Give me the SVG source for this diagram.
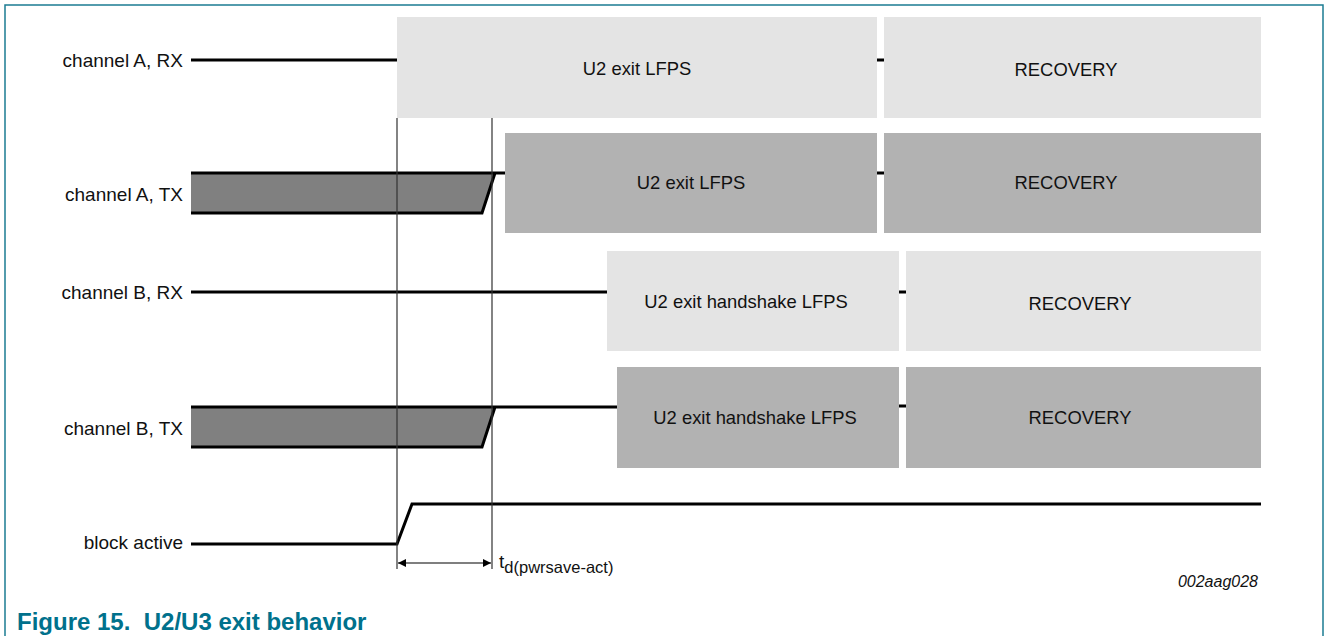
<svg xmlns="http://www.w3.org/2000/svg" width="1328" height="636" viewBox="0 0 1328 636">
<defs>
<style>
.lbl{font-family:"Liberation Sans",Arial,sans-serif;font-size:19px;fill:#111;}
.box{font-family:"Liberation Sans",Arial,sans-serif;font-size:18.4px;fill:#111;text-anchor:middle;}
.light{fill:#e4e4e4;}
.dark{fill:#b2b2b2;}
.sig{fill:none;stroke:#000;stroke-width:3;stroke-linejoin:miter;}
.thin{fill:none;stroke:#333;stroke-width:1.2;}
.bus{fill:#808080;stroke:none;}
</style>
<marker id="arr" viewBox="0 0 10 10" refX="10" refY="5" markerWidth="12" markerHeight="8" markerUnits="userSpaceOnUse" orient="auto-start-reverse">
<path d="M0,0 L10,5 L0,10 z" fill="#000"/>
</marker>
</defs>
<rect x="0" y="0" width="1328" height="636" fill="#fff"/>
<path d="M5,636 L5,5 L1323,5 L1323,636" fill="none" stroke="#1b7c93" stroke-width="1.5"/>

<g id="label-a-rx"><text class="lbl" x="183" y="67" text-anchor="end">channel A, RX</text></g>
<g id="label-a-tx"><text class="lbl" x="183" y="201" text-anchor="end">channel A, TX</text></g>
<g id="label-b-rx"><text class="lbl" x="183" y="299" text-anchor="end">channel B, RX</text></g>
<g id="label-b-tx"><text class="lbl" x="183" y="435" text-anchor="end">channel B, TX</text></g>
<g id="label-block"><text class="lbl" x="183" y="549" text-anchor="end">block active</text></g>

<g id="a-rx-lfps"><rect class="light" x="397" y="17" width="480" height="101"/><text class="box" x="637" y="75">U2 exit LFPS</text></g>
<g id="a-rx-recovery"><rect class="light" x="884" y="17" width="377" height="101"/><text class="box" x="1066" y="76">RECOVERY</text></g>
<g id="a-tx-lfps"><rect class="dark" x="505" y="133" width="372" height="100"/><text class="box" x="691" y="189">U2 exit LFPS</text></g>
<g id="a-tx-recovery"><rect class="dark" x="884" y="133" width="377" height="100"/><text class="box" x="1066" y="189">RECOVERY</text></g>
<g id="b-rx-lfps"><rect class="light" x="607" y="251" width="292" height="100"/><text class="box" x="746" y="308">U2 exit handshake LFPS</text></g>
<g id="b-rx-recovery"><rect class="light" x="906" y="251" width="355" height="100"/><text class="box" x="1080" y="310">RECOVERY</text></g>
<g id="b-tx-lfps"><rect class="dark" x="617" y="367" width="282" height="101"/><text class="box" x="755" y="424">U2 exit handshake LFPS</text></g>
<g id="b-tx-recovery"><rect class="dark" x="906" y="367" width="355" height="101"/><text class="box" x="1080" y="424">RECOVERY</text></g>

<g id="connectors">
<path class="sig" d="M191,60 L397,60"/>
<path class="sig" d="M877,60 L884,60"/>
<polygon class="bus" points="191,173 495,173 482,213 191,213"/>
<path class="sig" d="M191,173 L505,173 M495,173 L482,213 L191,213"/>
<path class="sig" d="M877,173 L884,173"/>
<path class="sig" d="M191,292 L607,292"/>
<path class="sig" d="M899,292 L906,292"/>
<polygon class="bus" points="191,407 495,407 482,447 191,447"/>
<path class="sig" d="M191,407 L617,407 M495,407 L482,447 L191,447"/>
<path class="sig" d="M899,406 L906,406"/>
<path class="sig" d="M191,544 L397,544 L412,504 L1261,504"/>
<path class="thin" d="M397,118 L397,569 M492,118 L492,569"/>
<path fill="none" stroke="#000" stroke-width="1.2" d="M398,563 L491,563" marker-start="url(#arr)" marker-end="url(#arr)"/>
</g>

<g id="timing-label"><text class="lbl" x="499" y="568" font-size="18.5">t<tspan font-size="16.5" dy="5">d(pwrsave-act)</tspan></text></g>
<text x="1258" y="587" text-anchor="end" font-family="'Liberation Sans',Arial,sans-serif" font-size="16" font-style="italic" fill="#111">002aag028</text>
<text x="17" y="630" xml:space="preserve" font-family="'Liberation Sans',Arial,sans-serif" font-size="24" font-weight="bold" fill="#00718c">Figure 15.  U2/U3 exit behavior</text>
</svg>
